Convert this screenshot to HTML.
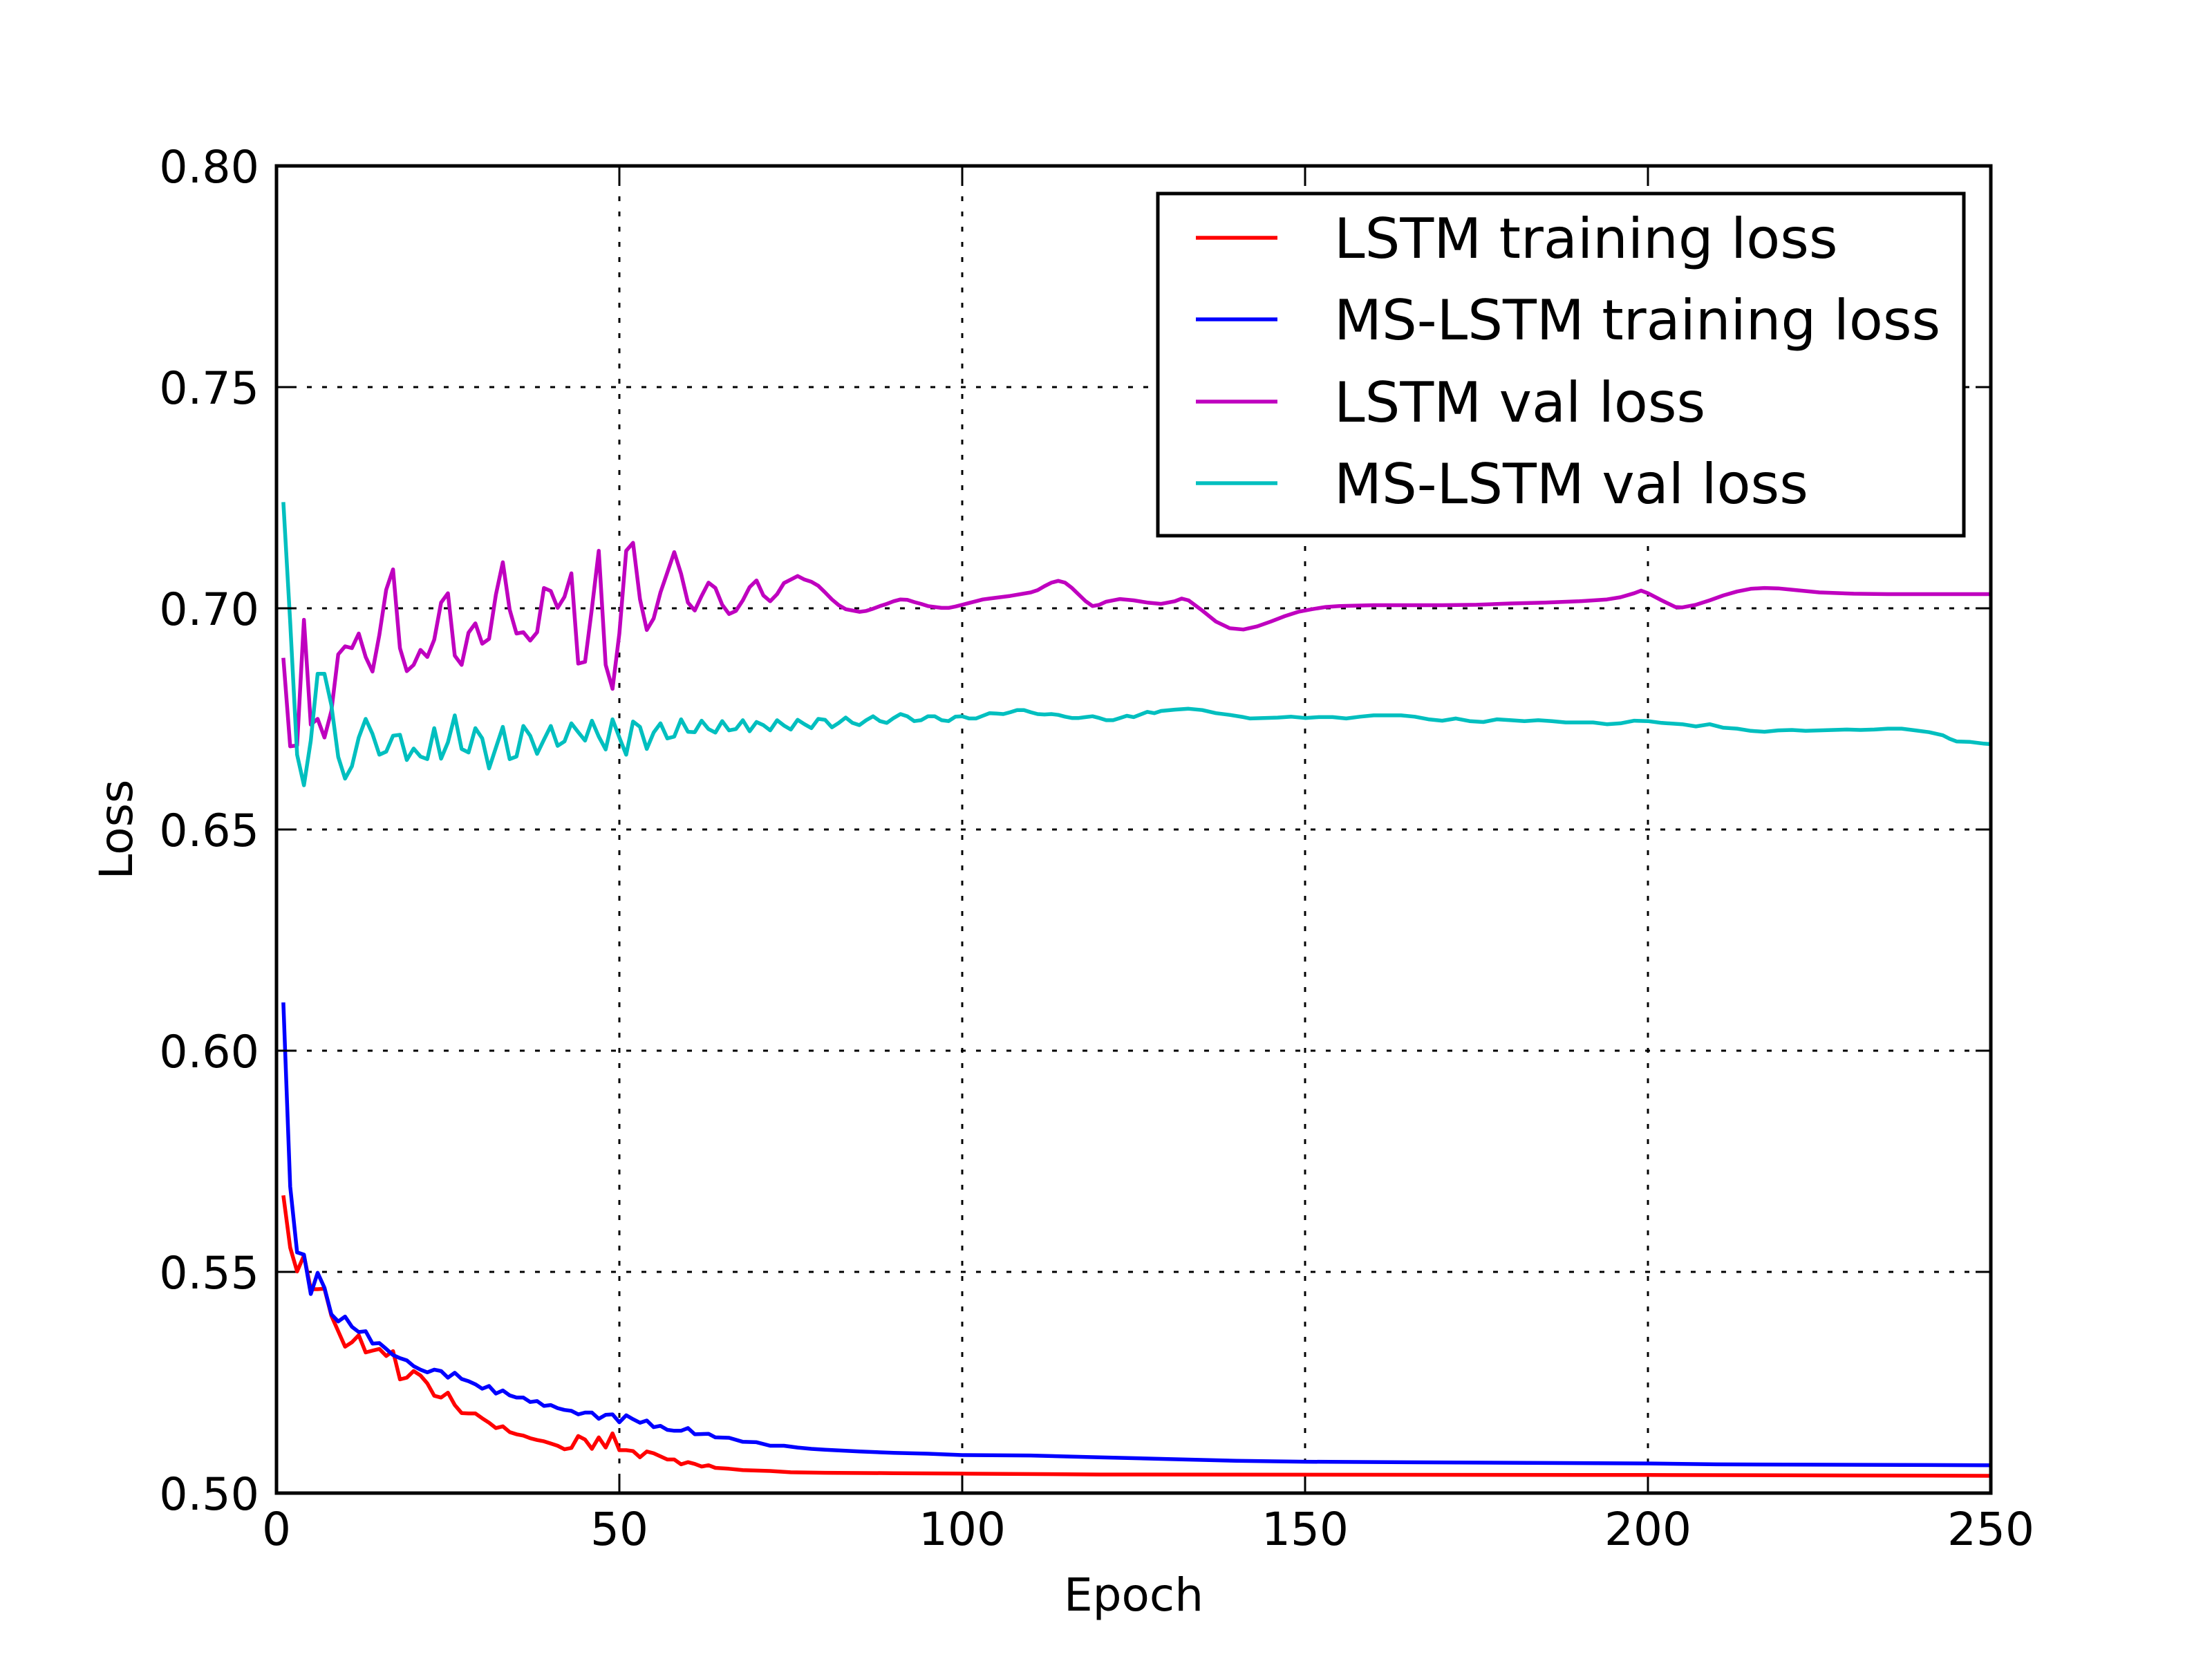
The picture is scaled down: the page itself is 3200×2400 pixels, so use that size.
<!DOCTYPE html>
<html><head><meta charset="utf-8"><style>
html,body{margin:0;padding:0;background:#fff;}
svg{display:block;font-family:"DejaVu Sans","Liberation Sans",sans-serif;}
</style></head><body>
<svg id="chart" width="3200" height="2400" viewBox="0 0 3200 2400" xmlns="http://www.w3.org/2000/svg">
<rect x="0" y="0" width="3200" height="2400" fill="#fff"/>
<g id="grid"></g>
<g id="series"></g>
<g id="ticks"></g>
<rect x="400" y="240" width="2480" height="1920" fill="none" stroke="#000" stroke-width="5"/>
<text x="1640" y="2330" font-size="66" text-anchor="middle">Epoch</text>
<text x="0" y="0" font-size="66" text-anchor="middle" transform="translate(191,1200) rotate(-90)">Loss</text>
<g>
<rect x="1675" y="280" width="1166" height="495" fill="#fff" stroke="#000" stroke-width="5"/>
<line x1="1730" y1="344" x2="1848" y2="344" stroke="#ff0000" stroke-width="5.5"/>
<text x="1930" y="373" font-size="80">LSTM training loss</text>
<line x1="1730" y1="462" x2="1848" y2="462" stroke="#0000ff" stroke-width="5.5"/>
<text x="1930" y="491" font-size="80">MS-LSTM training loss</text>
<line x1="1730" y1="581" x2="1848" y2="581" stroke="#bf00bf" stroke-width="5.5"/>
<text x="1930" y="610" font-size="80">LSTM val loss</text>
<line x1="1730" y1="699" x2="1848" y2="699" stroke="#00bfbf" stroke-width="5.5"/>
<text x="1930" y="728" font-size="80">MS-LSTM val loss</text>
</g>
</svg>
<script>
const xTicks = [0, 50, 100, 150, 200, 250];
const yTicks = [0.50, 0.55, 0.60, 0.65, 0.70, 0.75, 0.80];
const yTickLabels = ["0.50", "0.55", "0.60", "0.65", "0.70", "0.75", "0.80"];

const lstmValEpochs = [1,2,3,4,5,6,7,8,9,10,11,12,13,14,15,16,17,18,19,20,21,22,23,24,25,26,27,28,29,30,31,32,33,34,35,36,37,38,39,40,41,42,43,44,45,46,47,48,49,50,51,52,53,54,55,56,57,58,59,60,61,62,63,64,65,66,67,68,69,70,71,72,73,74,75,76,77,78,79,80,81,82,83,84,85,86,87,88,89,90,91,92,93,94,95,96,97,98,99,100,101,102,103,104,107,110,111,112,113,114,115,116,117,118,119,120,121,123,125,127,129,131,132,133,135,137,139,141,143,145,147,149,151,153,155,160,170,175,180,185,190,194,196,198,199,200,202,204,205,207,209,211,213,215,217,219,221,225,230,235,250];
const lstmValValues = [0.6888,0.6688,0.6690,0.6974,0.6737,0.6750,0.6708,0.6768,0.6896,0.6914,0.6910,0.6943,0.6890,0.6857,0.6940,0.7042,0.7088,0.6910,0.6858,0.6872,0.6906,0.6890,0.6929,0.7013,0.7034,0.6893,0.6872,0.6945,0.6966,0.6920,0.6931,0.7031,0.7104,0.6997,0.6943,0.6946,0.6927,0.6946,0.7046,0.7039,0.7001,0.7026,0.7079,0.6875,0.6879,0.7000,0.7130,0.6872,0.6818,0.6943,0.7130,0.7148,0.7021,0.6951,0.6977,0.7036,0.7081,0.7127,0.7078,0.7013,0.6995,0.7028,0.7058,0.7046,0.7008,0.6987,0.6994,0.7018,0.7048,0.7063,0.7029,0.7016,0.7032,0.7057,0.7065,0.7073,0.7065,0.7060,0.7051,0.7036,0.7020,0.7007,0.6998,0.6995,0.6992,0.6994,0.6999,0.7005,0.7010,0.7016,0.7020,0.7019,0.7014,0.7010,0.7005,0.7003,0.7001,0.7001,0.7004,0.7008,0.7012,0.7016,0.7020,0.7022,0.7028,0.7036,0.7041,0.7050,0.7058,0.7062,0.7058,0.7046,0.7031,0.7016,0.7005,0.7008,0.7015,0.7021,0.7018,0.7013,0.7010,0.7016,0.7022,0.7018,0.6995,0.6970,0.6955,0.6952,0.6959,0.6970,0.6982,0.6992,0.6998,0.7003,0.7005,0.7007,0.7007,0.7008,0.7011,0.7013,0.7016,0.7020,0.7025,0.7034,0.7040,0.7034,0.7018,0.7003,0.7002,0.7008,0.7018,0.7029,0.7038,0.7044,0.7046,0.7045,0.7042,0.7036,0.7033,0.7032,0.7032];

const msValEpochs = [1,2,3,4,5,6,7,8,9,10,11,12,13,14,15,16,17,18,19,20,21,22,23,24,25,26,27,28,29,30,31,32,33,34,35,36,37,38,39,40,41,42,43,44,45,46,47,48,49,50,51,52,53,54,55,56,57,58,59,60,61,62,63,64,65,66,67,68,69,70,71,72,73,74,75,76,77,78,79,80,81,82,83,84,85,86,87,88,89,90,91,92,93,94,95,96,97,98,99,100,101,102,103,104,105,106,107,108,109,110,111,112,113,114,115,116,117,118,119,120,121,122,123,124,125,127,128,129,131,133,135,137,139,141,142,144,146,148,150,152,154,156,158,160,162,164,166,168,170,172,174,176,178,180,182,184,186,188,190,192,194,196,198,200,202,205,207,209,211,213,215,217,219,221,223,225,227,229,231,233,235,237,239,241,243,244,245,247,249,250];
const msValValues = [0.7240,0.6969,0.6669,0.6600,0.6701,0.6852,0.6852,0.6781,0.6664,0.6615,0.6643,0.6708,0.6750,0.6716,0.6669,0.6676,0.6712,0.6714,0.6657,0.6683,0.6665,0.6659,0.6729,0.6660,0.6697,0.6758,0.6682,0.6674,0.6729,0.6706,0.6638,0.6685,0.6732,0.6659,0.6665,0.6734,0.6712,0.6671,0.6703,0.6734,0.6689,0.6699,0.6740,0.6720,0.6701,0.6746,0.6710,0.6681,0.6749,0.6708,0.6669,0.6744,0.6732,0.6682,0.6719,0.6740,0.6706,0.6710,0.6749,0.6721,0.6720,0.6746,0.6727,0.6719,0.6745,0.6724,0.6727,0.6747,0.6722,0.6743,0.6736,0.6724,0.6747,0.6735,0.6726,0.6748,0.6738,0.6729,0.6750,0.6748,0.6731,0.6741,0.6753,0.6741,0.6736,0.6747,0.6756,0.6745,0.6741,0.6752,0.6761,0.6756,0.6745,0.6747,0.6756,0.6756,0.6747,0.6745,0.6755,0.6756,0.6751,0.6751,0.6757,0.6763,0.6762,0.6761,0.6765,0.6770,0.6770,0.6765,0.6761,0.6760,0.6761,0.6759,0.6755,0.6752,0.6752,0.6754,0.6756,0.6752,0.6747,0.6747,0.6752,0.6757,0.6754,0.6766,0.6763,0.6768,0.6771,0.6773,0.6770,0.6763,0.6759,0.6754,0.6751,0.6752,0.6753,0.6755,0.6752,0.6754,0.6754,0.6751,0.6755,0.6758,0.6758,0.6758,0.6755,0.6749,0.6746,0.6751,0.6745,0.6743,0.6749,0.6747,0.6745,0.6747,0.6745,0.6742,0.6742,0.6742,0.6738,0.6740,0.6746,0.6745,0.6741,0.6738,0.6733,0.6738,0.6730,0.6728,0.6723,0.6721,0.6724,0.6725,0.6723,0.6724,0.6725,0.6726,0.6725,0.6726,0.6728,0.6728,0.6724,0.6720,0.6713,0.6705,0.6699,0.6698,0.6694,0.6693];

const lstmTrainEpochs = [1,2,3,4,5,6,7,8,9,10,11,12,13,14,15,16,17,18,19,20,21,22,23,24,25,26,27,28,29,30,31,32,33,34,35,36,37,38,39,40,41,42,43,44,45,46,47,48,49,50,51,52,53,54,55,56,57,58,59,60,61,62,63,64,66,68,70,72,75,80,90,100,120,200,250];
const lstmTrainValues = [0.5673,0.5555,0.5501,0.5537,0.5461,0.5461,0.5462,0.5401,0.5366,0.5331,0.5341,0.5357,0.5318,0.5322,0.5326,0.5310,0.5321,0.5257,0.5261,0.5276,0.5266,0.5248,0.5220,0.5216,0.5227,0.5199,0.5181,0.5180,0.5180,0.5169,0.5159,0.5147,0.5151,0.5138,0.5133,0.5130,0.5124,0.5120,0.5117,0.5112,0.5107,0.5099,0.5102,0.5129,0.5121,0.5100,0.5126,0.5103,0.5135,0.5097,0.5097,0.5095,0.5081,0.5094,0.5090,0.5083,0.5076,0.5076,0.5065,0.5070,0.5066,0.5060,0.5063,0.5057,0.5055,0.5052,0.5051,0.5050,0.5047,0.5046,0.5045,0.5044,0.5042,0.5041,0.5039];

const msTrainEpochs = [1,2,3,4,5,6,7,8,9,10,11,12,13,14,15,16,17,18,19,20,21,22,23,24,25,26,27,28,29,30,31,32,33,34,35,36,37,38,39,40,41,42,43,44,45,46,47,48,49,50,51,52,53,54,55,56,57,58,59,60,61,63,64,66,68,70,72,74,76,78,80,85,90,95,100,110,120,130,140,150,200,210,250];
const msTrainValues = [0.6109,0.5693,0.5544,0.5539,0.5450,0.5498,0.5464,0.5404,0.5388,0.5399,0.5376,0.5364,0.5366,0.5338,0.5339,0.5326,0.5312,0.5305,0.5300,0.5287,0.5279,0.5273,0.5279,0.5276,0.5261,0.5272,0.5258,0.5253,0.5246,0.5236,0.5242,0.5225,0.5232,0.5221,0.5216,0.5216,0.5206,0.5208,0.5197,0.5199,0.5192,0.5188,0.5186,0.5178,0.5182,0.5182,0.5168,0.5177,0.5178,0.5160,0.5176,0.5167,0.5159,0.5164,0.5149,0.5152,0.5143,0.5141,0.5141,0.5147,0.5133,0.5134,0.5126,0.5125,0.5116,0.5115,0.5107,0.5107,0.5103,0.5100,0.5098,0.5094,0.5091,0.5089,0.5086,0.5085,0.5081,0.5077,0.5073,0.5071,0.5067,0.5065,0.5063];

const NS = "http://www.w3.org/2000/svg";
const X0 = 400, X1 = 2880, Y0 = 2160, Y1 = 240;
function xScale(e){ return X0 + (e - 0) / 250 * (X1 - X0); }
function yScale(v){ return Y0 - (v - 0.5) / 0.3 * (Y0 - Y1); }

const grid = document.getElementById('grid');
const ticks = document.getElementById('ticks');
const series = document.getElementById('series');

function mk(tag, attrs){
  const el = document.createElementNS(NS, tag);
  for (const k in attrs) el.setAttribute(k, attrs[k]);
  return el;
}

xTicks.forEach(function(t){
  const x = xScale(t);
  if (t > 0 && t < 250) {
    const g = mk('line', {x1:x, y1:Y1, x2:x, y2:Y0, stroke:'#000', 'stroke-width':3, 'stroke-dasharray':'7 15'});
    
    
    grid.appendChild(g);
  }
  const tb = mk('line', {x1:x, y1:Y0, x2:x, y2:Y0-22, stroke:'#000', 'stroke-width':3});
  
  
  ticks.appendChild(tb);
  const tt = mk('line', {x1:x, y1:Y1, x2:x, y2:Y1+22, stroke:'#000', 'stroke-width':3});
  
  
  ticks.appendChild(tt);
  const lab = mk('text', {x:x, y:2235, 'font-size':66, 'text-anchor':'middle'});
  lab.textContent = String(t);
  
  
  ticks.appendChild(lab);
});

yTicks.forEach(function(t, i){
  const y = yScale(t);
  if (i > 0 && i < yTicks.length - 1) {
    const g = mk('line', {x1:X0, y1:y, x2:X1, y2:y, stroke:'#000', 'stroke-width':3, 'stroke-dasharray':'7 15'});
    
    
    grid.appendChild(g);
  }
  const tl = mk('line', {x1:X0, y1:y, x2:X0+22, y2:y, stroke:'#000', 'stroke-width':3});
  
  
  ticks.appendChild(tl);
  const tr = mk('line', {x1:X1, y1:y, x2:X1-22, y2:y, stroke:'#000', 'stroke-width':3});
  
  
  ticks.appendChild(tr);
  const lab = mk('text', {x:375, y:y+24, 'font-size':65, 'text-anchor':'end'});
  lab.textContent = yTickLabels[i];
  
  
  ticks.appendChild(lab);
});

function drawLine(epochs, values, color, name){
  const pts = epochs.map(function(e, i){ return xScale(e).toFixed(1) + ',' + yScale(values[i]).toFixed(1); }).join(' ');
  const pl = mk('polyline', {points:pts, fill:'none', stroke:color, 'stroke-width':5.5, 'stroke-linejoin':'round'});
  
  
  series.appendChild(pl);
}
drawLine(lstmTrainEpochs, lstmTrainValues, '#ff0000', 'lstm-training-loss-line');
drawLine(msTrainEpochs, msTrainValues, '#0000ff', 'ms-lstm-training-loss-line');
drawLine(lstmValEpochs, lstmValValues, '#bf00bf', 'lstm-val-loss-line');
drawLine(msValEpochs, msValValues, '#00bfbf', 'ms-lstm-val-loss-line');
</script>
</body></html>
